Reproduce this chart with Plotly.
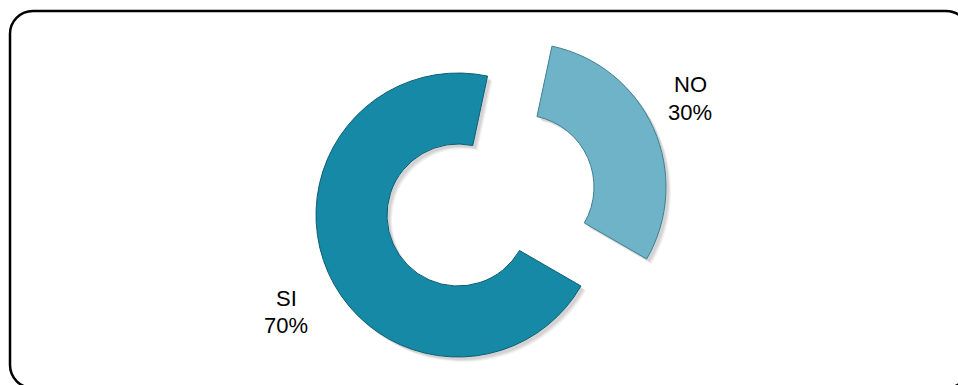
import plotly.graph_objects as go

# Survey answers
labels = ["NO", "SI"]
values = [30, 70]
colors = ["#6fb3c8", "#1589a6"]
edge_colors = ["#3f7f92", "#0d5e72"]

W, H = 958, 385
total = sum(values)
percents = [round(v / total * 100) for v in values]


def px_domain(cx, cy, r):
    """Square pie domain (in paper units) centred on pixel (cx, cy) with radius r."""
    return dict(
        x=[(cx - r) / W, (cx + r) / W],
        y=[1 - (cy + r) / H, 1 - (cy - r) / H],
    )


# Ring geometry: the SI ring sits in place, the NO slice is pulled out up-right.
ring = {
    "SI": dict(cx=458, cy=215, r=142),
    "NO": dict(cx=522, cy=187, r=144),
}

fig = go.Figure()


def ring_trace(show, fill, line_col, line_w, dx=0, dy=0):
    g = ring[labels[show]]
    cols = ["rgba(0,0,0,0)"] * len(labels)
    lcols = ["rgba(0,0,0,0)"] * len(labels)
    lw = [0] * len(labels)
    cols[show] = fill
    lcols[show] = line_col
    lw[show] = line_w
    return go.Pie(
        labels=labels,
        values=values,
        sort=False,
        direction="clockwise",
        rotation=12,
        hole=0.5,
        textinfo="none",
        hoverinfo="label+percent",
        showlegend=False,
        marker=dict(colors=cols, line=dict(color=lcols, width=lw)),
        domain=px_domain(g["cx"] + dx, g["cy"] + dy, g["r"]),
    )


# soft drop shadows first, then the coloured ring pieces
for i in range(len(labels)):
    for off, a in ((5, 0.05), (4, 0.06), (3, 0.07)):
        fig.add_trace(ring_trace(i, f"rgba(0,0,0,{a})", "rgba(0,0,0,0)", 0, off, off))
for i in range(len(labels)):
    fig.add_trace(ring_trace(i, colors[i], edge_colors[i], 1))

# slice labels: category name above its percentage
label_pos = {"NO": (690, 85), "SI": (286, 298)}
line_gap = 27
label_font = dict(family="Liberation Sans, Arial, sans-serif", size=22, color="#000000")
for lab, pct in zip(labels, percents):
    x, y = label_pos[lab]
    for text, yy in ((lab, y), (f"{pct}%", y + line_gap)):
        fig.add_annotation(
            x=x / W, y=1 - yy / H, xref="paper", yref="paper",
            text=text, showarrow=False,
            xanchor="center", yanchor="middle", align="center",
            font=label_font,
        )

# rounded frame around the chart area
x0, x1, y0, y1, rad = 10, 969, 11, 388, 23
k = 0.5523 * rad


def P(x, y):
    return f"{x / W:.5f},{1 - y / H:.5f}"


frame = (
    f"M {P(x0 + rad, y0)} L {P(x1 - rad, y0)} "
    f"C {P(x1 - rad + k, y0)} {P(x1, y0 + rad - k)} {P(x1, y0 + rad)} "
    f"L {P(x1, y1 - rad)} "
    f"C {P(x1, y1 - rad + k)} {P(x1 - rad + k, y1)} {P(x1 - rad, y1)} "
    f"L {P(x0 + rad, y1)} "
    f"C {P(x0 + rad - k, y1)} {P(x0, y1 - rad + k)} {P(x0, y1 - rad)} "
    f"L {P(x0, y0 + rad)} "
    f"C {P(x0, y0 + rad - k)} {P(x0 + rad - k, y0)} {P(x0 + rad, y0)} Z"
)
fig.add_shape(type="path", path=frame, xref="paper", yref="paper",
              line=dict(color="#000000", width=2.5), layer="above")

fig.update_layout(
    width=W, height=H,
    margin=dict(l=0, r=0, t=0, b=0),
    paper_bgcolor="#ffffff",
    plot_bgcolor="#ffffff",
)

fig.write_html("out.html")
